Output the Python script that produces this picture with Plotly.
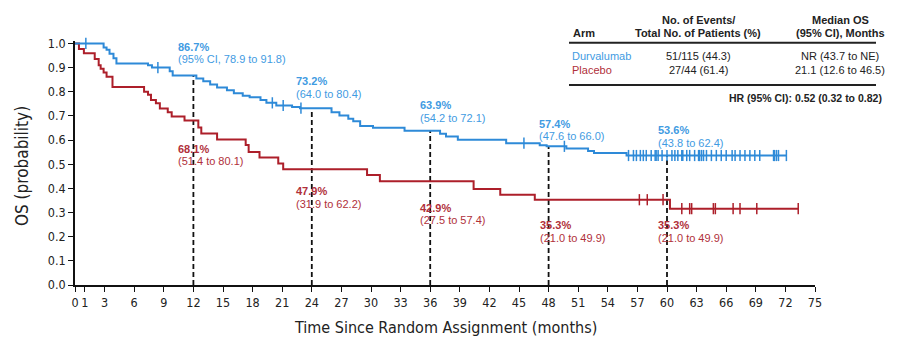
import numpy as np
import plotly.graph_objects as go

# ---------------- data ----------------
x_ticks = [0, 1, 3, 6, 9, 12, 15, 18, 21, 24, 27, 30, 33, 36, 39, 42, 45, 48, 51, 54, 57, 60, 63, 66, 69, 72, 75]
y_ticks = [0.0, 0.1, 0.2, 0.3, 0.4, 0.5, 0.6, 0.7, 0.8, 0.9, 1.0]

durva_t = [0, 2.9, 3.2, 3.5, 3.9, 4.2, 7.4, 7.8, 9.6, 9.9, 12.3, 13.0, 13.7, 14.4, 15.4, 16.1, 17.0, 17.7,
           18.8, 19.4, 20.4, 22.0, 22.8, 26.0, 26.8, 27.7, 28.2, 28.9, 30.2, 33.4, 37.0, 37.6, 38.8, 43.7,
           47.1, 47.8, 49.8, 52.0, 52.6, 55.9]
durva_s = [1.0, 0.983, 0.974, 0.957, 0.939, 0.917, 0.91, 0.90, 0.885, 0.867, 0.855, 0.843, 0.83, 0.818,
           0.806, 0.794, 0.783, 0.777, 0.766, 0.754, 0.743, 0.737, 0.732, 0.715, 0.702, 0.688, 0.678, 0.658,
           0.651, 0.639, 0.626, 0.615, 0.601, 0.587, 0.578, 0.574, 0.565, 0.555, 0.546, 0.536]
durva_end = 72.1
durva_censor = [1.1, 8.4, 20.0, 21.1, 22.9, 45.5, 49.6,
                56.1, 56.6, 56.9, 57.3, 57.6, 57.9, 58.4, 58.8, 58.9, 59.1, 59.5, 60.0, 60.5, 60.8,
                61.1, 61.5, 61.6, 62.0, 62.3, 62.8, 63.2, 63.3, 63.5, 63.7, 64.0, 64.5, 65.0, 65.5,
                66.0, 66.6, 66.9, 67.4, 67.9, 68.4, 68.9, 69.4, 70.8, 70.9, 71.1, 71.3, 72.1]

placebo_t = [0, 0.4, 0.9, 2.0, 2.4, 2.6, 2.9, 3.2, 3.8, 7.0, 7.4, 7.7, 8.2, 8.6, 9.4, 9.8, 11.1, 12.5,
             12.8, 14.4, 17.3, 17.6, 18.7, 20.6, 21.1, 29.6, 30.9, 40.4, 43.1, 46.6, 60.3]
placebo_s = [1.0, 0.977, 0.959, 0.936, 0.91, 0.895, 0.88, 0.862, 0.82, 0.80, 0.787, 0.766, 0.752, 0.731,
             0.715, 0.697, 0.681, 0.652, 0.627, 0.602, 0.579, 0.551, 0.528, 0.503, 0.479, 0.455, 0.429,
             0.397, 0.374, 0.353, 0.316]
placebo_end = 73.3
placebo_censor = [57.2, 58.0, 59.6, 61.5, 62.3, 62.5, 64.7, 64.9, 66.7, 67.4, 69.1, 73.3]

landmarks = [12, 24, 36, 48, 60]
durva_pct = ["86.7%", "73.2%", "63.9%", "57.4%", "53.6%"]
durva_ci = ["(95% CI, 78.9 to 91.8)", "(64.0 to 80.4)", "(54.2 to 72.1)", "(47.6 to 66.0)", "(43.8 to 62.4)"]
placebo_pct = ["68.1%", "47.9%", "42.9%", "35.3%", "35.3%"]
placebo_ci = ["(51.4 to 80.1)", "(31.9 to 62.2)", "(27.5 to 57.4)", "(21.0 to 49.9)", "(21.0 to 49.9)"]

table_header1 = ["", "No. of Events/", "Median OS"]
table_header2 = ["Arm", "Total No. of Patients (%)", "(95% CI), Months"]
table_arms = ["Durvalumab", "Placebo"]
table_events = ["51/115 (44.3)", "27/44 (61.4)"]
table_median = ["NR (43.7 to NE)", "21.1 (12.6 to 46.5)"]
hr_text = "HR (95% CI): 0.52 (0.32 to 0.82)"

x_title = "Time Since Random Assignment (months)"
y_title = "OS (probability)"

# ---------------- styling ----------------
BLUE = "#2e8ad8"
RED = "#ad1f2a"
BLUE_TXT = "#3f9be2"
RED_TXT = "#b0303a"
NARROW = "Liberation Sans Narrow, DejaVu Sans Condensed, Arial Narrow, sans-serif"
SANS = "Liberation Sans, Arial, Helvetica, sans-serif"

W, H = 908, 345
ML, MR, MT, MB = 75, 93, 41, 60
PW, PH = W - ML - MR, H - MT - MB


def px(X, Y):
    return (X - ML) / PW, 1 - (Y - MT) / PH


def step(ts, ss, t):
    i = np.searchsorted(np.array(ts), np.array(t, dtype=float), side="right") - 1
    return np.array(ss)[i]


fig = go.Figure()

# dashed landmark lines
for lm in landmarks:
    top = float(step(durva_t, durva_s, lm))
    fig.add_trace(go.Scatter(x=[lm, lm], y=[0, top], mode="lines",
                             line=dict(color="#111", width=1.8, dash="5px,3px"),
                             showlegend=False, hoverinfo="skip"))

# curves
for ts, ss, end, cens, col in [(placebo_t, placebo_s, placebo_end, placebo_censor, RED),
                               (durva_t, durva_s, durva_end, durva_censor, BLUE)]:
    fig.add_trace(go.Scatter(x=list(ts) + [end], y=list(ss) + [ss[-1]], mode="lines",
                             line=dict(color=col, width=2, shape="hv"),
                             showlegend=False, hoverinfo="skip"))
    fig.add_trace(go.Scatter(x=cens, y=step(ts, ss, cens), mode="markers",
                             marker=dict(symbol="line-ns", size=8, line=dict(color=col, width=1.5)),
                             showlegend=False, hoverinfo="skip", cliponaxis=False))

ann = []


def add_text(X, Y, text, color, size=11, bold=False, xanchor="left", family=SANS):
    x, y = px(X, Y)
    ann.append(dict(x=x, y=y, xref="paper", yref="paper", text=("<b>%s</b>" % text) if bold else text,
                    showarrow=False, xanchor=xanchor, yanchor="middle",
                    font=dict(family=family, size=size, color=color)))


# landmark labels
durva_pos = [(176, 46.5), (294, 81), (418, 105), (537, 123.5), (655.5, 130)]
placebo_pos = [(176, 148.5), (294, 191), (418, 207.5), (537.5, 225), (655.5, 225)]
for (X, Y), p, c in zip(durva_pos, durva_pct, durva_ci):
    add_text(X, Y, p, BLUE_TXT, bold=True)
    add_text(X, Y + 12.5, c, BLUE_TXT)
for (X, Y), p, c in zip(placebo_pos, placebo_pct, placebo_ci):
    add_text(X, Y, p, RED_TXT, bold=True)
    add_text(X, Y + 12.5, c, RED_TXT)

# table
TXT = "#222"
add_text(698, 20, table_header1[1], TXT, bold=True, xanchor="center")
add_text(840, 20, table_header1[2], TXT, bold=True, xanchor="center")
add_text(571, 33, table_header2[0], TXT, bold=True)
add_text(698, 33, table_header2[1], TXT, bold=True, xanchor="center")
add_text(840, 33, table_header2[2], TXT, bold=True, xanchor="center")
row_y = [56, 70]
row_col = [BLUE_TXT, RED_TXT]
for i in range(2):
    add_text(570, row_y[i], table_arms[i], row_col[i])
    add_text(698, row_y[i], table_events[i], TXT, xanchor="center")
    add_text(840, row_y[i], table_median[i], TXT, xanchor="center")
add_text(884, 98, hr_text, TXT, size=10.5, bold=True, xanchor="right")

# axis titles
tx, ty = px(445, 327)
ann.append(dict(x=tx, y=ty, xref="paper", yref="paper", text=x_title, showarrow=False,
                xanchor="center", yanchor="middle", font=dict(family=NARROW, size=16, color="#222")))
tx, ty = px(22, 166)
ann.append(dict(x=tx, y=ty, xref="paper", yref="paper", text=y_title, showarrow=False, textangle=-90,
                xanchor="center", yanchor="middle", font=dict(family=NARROW, size=17, color="#222")))

shapes = []
for Yr in [42.7, 85]:
    x0, y0 = px(569, Yr)
    x1, _ = px(876, Yr)
    shapes.append(dict(type="line", xref="paper", yref="paper", x0=x0, x1=x1, y0=y0, y1=y0,
                       line=dict(color="#222", width=2)))

fig.update_layout(
    width=W, height=H, margin=dict(l=ML, r=MR, t=MT, b=MB),
    paper_bgcolor="white", plot_bgcolor="white",
    annotations=ann, shapes=shapes,
    xaxis=dict(range=[0, 75], tickvals=x_ticks, ticktext=[str(v) for v in x_ticks],
               showgrid=False, zeroline=False, showline=True, linecolor="#111", linewidth=1.5,
               ticks="outside", ticklen=5, tickwidth=1.2, tickcolor="#111",
               tickfont=dict(family=NARROW, size=12.5, color="#222")),
    yaxis=dict(range=[0, 1.01], tickvals=y_ticks, ticktext=["%.1f" % v for v in y_ticks],
               showgrid=False, zeroline=False, showline=True, linecolor="#111", linewidth=1.5,
               ticks="outside", ticklen=5, tickwidth=1.2, tickcolor="#111",
               tickfont=dict(family=NARROW, size=12.5, color="#222")),
)

fig.write_html("out.html")
